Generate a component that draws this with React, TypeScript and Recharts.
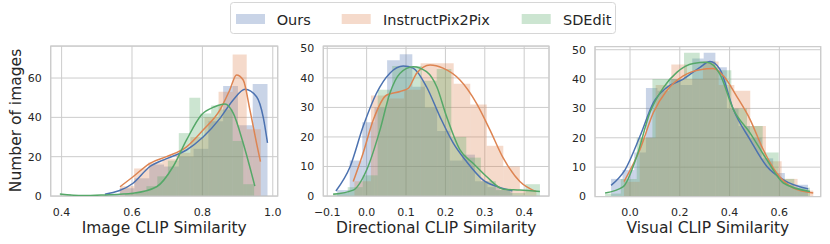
import React from 'react';
import {
  CartesianGrid, ComposedChart, Line, ReferenceArea, XAxis, YAxis,
} from 'recharts';

const FONT = '"DejaVu Sans", sans-serif';
const TEXT = '#262626';
const GRID = '#cccccc';

const BLUE = '#4C72B0';
const ORANGE = '#DD8452';
const GREEN = '#55A868';

const seriesNames = ['Ours', 'InstructPix2Pix', 'SDEdit'];

// Image CLIP Similarity
const imgOursEdges = [0.523, 0.565, 0.607, 0.649, 0.691, 0.733, 0.775, 0.817, 0.859, 0.901, 0.943, 0.985];
const imgOursCounts = [1, 4, 9, 16, 15, 20, 24, 38, 56, 36, 57];
const imgIp2pEdges = [0.566, 0.606, 0.646, 0.686, 0.726, 0.766, 0.806, 0.846, 0.886, 0.926, 0.966];
const imgIp2pCounts = [5, 14, 17, 19, 22, 30, 40, 53, 72, 34];
const imgSdeEdges = [0.396, 0.427, 0.457, 0.488, 0.519, 0.549, 0.580, 0.610, 0.641, 0.672, 0.702, 0.733, 0.763, 0.794, 0.825, 0.855, 0.886, 0.916, 0.947];
const imgSdeCounts = [1, 0, 0, 0, 0, 0, 1, 2, 5, 10, 18, 32, 50, 42, 46, 44, 28, 6];
const imgOursKde = [[0.523, 0.9], [0.603, 6.5], [0.651, 15], [0.698, 19], [0.755, 23.4], [0.802, 30], [0.85, 39.5], [0.888, 49], [0.921, 54.3], [0.954, 50.5], [0.973, 40], [0.985, 27]];
const imgIp2pKde = [[0.566, 4.7], [0.603, 9.8], [0.651, 16.6], [0.698, 20], [0.755, 25], [0.802, 33.6], [0.85, 43.8], [0.878, 54], [0.897, 61.6], [0.916, 59], [0.935, 43.8], [0.954, 26.8], [0.965, 17.5]];
const imgSdeKde = [[0.395, 1], [0.461, 0.2], [0.518, 0.5], [0.603, 1.4], [0.67, 4.7], [0.717, 15], [0.755, 28.5], [0.797, 41.2], [0.835, 45.4], [0.864, 46.8], [0.888, 42], [0.916, 26.8], [0.949, 5]];

// Directional CLIP Similarity
const dirOursEdges = [-0.075, -0.043, -0.011, 0.020, 0.052, 0.084, 0.116, 0.148, 0.179, 0.211, 0.243, 0.275, 0.307, 0.338, 0.370];
const dirOursCounts = [2, 12, 25, 30, 46, 48, 37, 30, 22, 12, 14, 5, 3, 2];
const dirIp2pEdges = [-0.031, 0.011, 0.053, 0.095, 0.137, 0.179, 0.221, 0.263, 0.305, 0.347, 0.389, 0.431];
const dirIp2pCounts = [5, 34, 33, 36, 45, 45, 38, 31, 17, 10, 2];
const dirSdeEdges = [-0.085, -0.048, -0.010, 0.028, 0.065, 0.103, 0.140, 0.178, 0.215, 0.253, 0.290, 0.328, 0.365, 0.403, 0.440];
const dirSdeCounts = [1, 3, 7, 36, 44, 44, 39, 43, 20, 13, 5, 2, 1, 4];
const dirOursKde = [[-0.078, 1.7], [-0.042, 9.9], [-0.009, 23.5], [0.025, 34.8], [0.059, 41.6], [0.093, 44], [0.118, 43.3], [0.152, 37], [0.186, 26.9], [0.22, 17.9], [0.254, 11.6], [0.296, 5.4], [0.338, 2.9], [0.37, 1.8]];
const dirIp2pKde = [[-0.034, 4.9], [-0.009, 14.5], [0.017, 25.8], [0.051, 34.2], [0.085, 35.4], [0.106, 36.5], [0.127, 41.6], [0.161, 44.4], [0.194, 43.3], [0.237, 39.3], [0.279, 31.4], [0.313, 22.4], [0.347, 12.8], [0.389, 4.9], [0.43, 1.5]];
const dirSdeKde = [[-0.085, 0.6], [-0.034, 2], [0.0, 8.8], [0.034, 22.4], [0.059, 34.8], [0.085, 41.6], [0.118, 43.8], [0.152, 42.1], [0.178, 37], [0.203, 26.9], [0.237, 15.6], [0.271, 11], [0.305, 6.5], [0.347, 2.3], [0.389, 2], [0.44, 1.5]];

// Visual CLIP Similarity
const visOursEdges = [-0.076, -0.030, 0.017, 0.064, 0.110, 0.157, 0.203, 0.250, 0.296, 0.343, 0.389, 0.436, 0.482, 0.529, 0.575, 0.622, 0.668, 0.715];
const visOursCounts = [6, 9, 15, 37, 36, 40, 38, 47, 49, 44, 30, 24, 20, 13, 8, 4, 4];
const visIp2pEdges = [-0.024, 0.039, 0.103, 0.166, 0.229, 0.293, 0.356, 0.419, 0.483, 0.546, 0.609, 0.673, 0.736];
const visIp2pCounts = [5, 20, 38, 45, 40, 46, 38, 36, 24, 12, 6, 2];
const visSdeEdges = [-0.100, -0.037, 0.027, 0.090, 0.153, 0.217, 0.280, 0.343, 0.407, 0.470, 0.533, 0.597, 0.660, 0.723];
const visSdeCounts = [1, 6, 20, 40, 40, 49, 46, 43, 30, 24, 15, 6, 3];
const visOursKde = [[-0.076, 3.8], [-0.02, 9.1], [0.04, 20.5], [0.094, 32], [0.147, 37.1], [0.214, 40], [0.281, 44], [0.321, 46], [0.361, 43.4], [0.415, 29.7], [0.482, 19.4], [0.549, 10.3], [0.616, 5.7], [0.716, 2.6]];
const visIp2pKde = [[-0.024, 5.1], [0.04, 16], [0.094, 28.6], [0.147, 36], [0.214, 41.1], [0.281, 43.2], [0.335, 43.6], [0.375, 41.1], [0.428, 34.2], [0.482, 26.3], [0.535, 16], [0.589, 8], [0.656, 2.9], [0.736, 1.2]];
const visSdeKde = [[-0.1, 1.2], [-0.027, 3.4], [0.027, 13.7], [0.08, 28.6], [0.134, 37.1], [0.188, 42.3], [0.254, 45.3], [0.308, 45.7], [0.361, 41.7], [0.415, 29.7], [0.482, 21.7], [0.549, 12.6], [0.616, 4.6], [0.723, 1.7]];

const fmt = (v: number) => v.toFixed(1).replace('-', '\u2212');

function Panel(props: any) {
  const {
    left, width, yAxisWidth, marginRight, top, xDomain, xTicks, yDomain, yTicks, xLabel, hists, kdes,
  } = props;
  return (
    <div style={{ position: 'absolute', left, top: 0 }}>
      <ComposedChart
        width={width}
        height={244}
        margin={{ top, right: marginRight, bottom: 0, left: 0 }}
        style={{ fontFamily: FONT }}
      >
        <CartesianGrid stroke={GRID} strokeWidth={1} />
        <XAxis
          type="number"
          dataKey="x"
          domain={xDomain}
          ticks={xTicks}
          allowDataOverflow
          height={244 - 196 - (top - 46)}
          axisLine={false}
          tickLine={false}
          tickSize={0}
          tickMargin={12}
          tickFormatter={fmt}
          tick={{ fontSize: 11, fill: TEXT }}
          label={{ value: xLabel, position: 'insideBottom', offset: 11, fontSize: 15.5, fill: TEXT }}
        />
        <YAxis
          type="number"
          domain={yDomain}
          ticks={yTicks}
          allowDataOverflow
          width={yAxisWidth}
          axisLine={false}
          tickLine={false}
          tickSize={0}
          tickMargin={9}
          tick={{ fontSize: 11, fill: TEXT }}
        />
        {hists.map((h: any, k: number) => h.counts.map((c: number, i: number) => (c > 0 ? (
          <ReferenceArea
            key={`h${k}-${i}`}
            x1={h.edges[i]}
            x2={h.edges[i + 1]}
            y1={0}
            y2={c}
            fill={h.color}
            fillOpacity={0.3}
            stroke="none"
          />
        ) : null)))}
        {kdes.map((d: any, k: number) => (
          <Line
            key={`k${k}`}
            data={d.points.map((p: number[]) => ({ x: p[0], y: p[1] }))}
            dataKey="y"
            type="monotone"
            stroke={d.color}
            strokeWidth={1.5}
            dot={false}
            activeDot={false}
            isAnimationActive={false}
          />
        ))}
        <ReferenceArea
          x1={xDomain[0]}
          x2={xDomain[1]}
          y1={yDomain[0]}
          y2={yDomain[1]}
          fill="none"
          stroke={GRID}
          strokeWidth={1.25}
        />
      </ComposedChart>
    </div>
  );
}

export default function App() {
  return (
    <div style={{
      position: 'absolute', left: 0, top: 0, width: 830, height: 244, background: '#fff', fontFamily: FONT,
    }}
    >
      <Panel
        left={0}
        width={290}
        yAxisWidth={50.7}
        marginRight={12.3}
        top={46}
        xDomain={[0.369, 1.014]}
        xTicks={[0.4, 0.6, 0.8, 1.0]}
        yDomain={[0, 76.3]}
        yTicks={[0, 20, 40, 60]}
        xLabel="Image CLIP Similarity"
        hists={[
          { edges: imgOursEdges, counts: imgOursCounts, color: BLUE },
          { edges: imgIp2pEdges, counts: imgIp2pCounts, color: ORANGE },
          { edges: imgSdeEdges, counts: imgSdeCounts, color: GREEN },
        ]}
        kdes={[
          { points: imgOursKde, color: BLUE },
          { points: imgIp2pKde, color: ORANGE },
          { points: imgSdeKde, color: GREEN },
        ]}
      />
      <Panel
        left={290}
        width={270}
        yAxisWidth={33.3}
        marginRight={11}
        top={46}
        xDomain={[-0.110, 0.463]}
        xTicks={[-0.1, 0.0, 0.1, 0.2, 0.3, 0.4]}
        yDomain={[0, 50.8]}
        yTicks={[0, 10, 20, 30, 40, 50]}
        xLabel="Directional CLIP Similarity"
        hists={[
          { edges: dirOursEdges, counts: dirOursCounts, color: BLUE },
          { edges: dirIp2pEdges, counts: dirIp2pCounts, color: ORANGE },
          { edges: dirSdeEdges, counts: dirSdeCounts, color: GREEN },
        ]}
        kdes={[
          { points: dirOursKde, color: BLUE },
          { points: dirIp2pKde, color: ORANGE },
          { points: dirSdeKde, color: GREEN },
        ]}
      />
      <Panel
        left={560}
        width={270}
        yAxisWidth={35}
        marginRight={9.3}
        top={46.5}
        xDomain={[-0.1406, 0.766]}
        xTicks={[0.0, 0.2, 0.4, 0.6]}
        yDomain={[0, 51.1]}
        yTicks={[0, 10, 20, 30, 40, 50]}
        xLabel="Visual CLIP Similarity"
        hists={[
          { edges: visOursEdges, counts: visOursCounts, color: BLUE },
          { edges: visIp2pEdges, counts: visIp2pCounts, color: ORANGE },
          { edges: visSdeEdges, counts: visSdeCounts, color: GREEN },
        ]}
        kdes={[
          { points: visOursKde, color: BLUE },
          { points: visIp2pKde, color: ORANGE },
          { points: visSdeKde, color: GREEN },
        ]}
      />
      <svg width={830} height={244} style={{ position: 'absolute', left: 0, top: 0, pointerEvents: 'none' }}>
        <text
          transform="translate(20.5 120.5) rotate(-90)"
          textAnchor="middle"
          fontSize={15.5}
          fill={TEXT}
          fontFamily={FONT}
        >
          Number of images
        </text>
        <rect x={230.5} y={2.5} width={385} height={31} rx={3} fill="#fff" fillOpacity={0.8} stroke="#d6d6d6" />
        <rect x={236} y={14} width={29} height={10} fill={BLUE} fillOpacity={0.3} />
        <text x={276.7} y={25} fontSize={14.5} fill={TEXT} fontFamily={FONT}>{seriesNames[0]}</text>
        <rect x={341.7} y={14} width={29} height={10} fill={ORANGE} fillOpacity={0.3} />
        <text x={383} y={25} fontSize={14.5} fill={TEXT} fontFamily={FONT}>{seriesNames[1]}</text>
        <rect x={521.7} y={14} width={29} height={10} fill={GREEN} fillOpacity={0.3} />
        <text x={563} y={25} fontSize={14.5} fill={TEXT} fontFamily={FONT}>{seriesNames[2]}</text>
      </svg>
    </div>
  );
}
